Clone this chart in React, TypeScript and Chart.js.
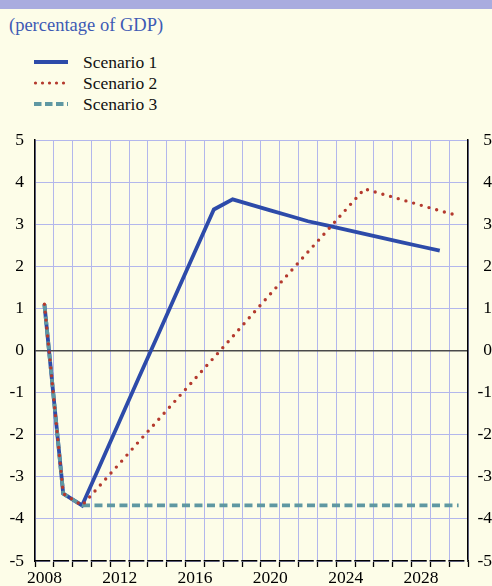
import React, { useEffect, useRef } from "react";
import { Chart, registerables } from "chart.js";

Chart.register(...registerables);

const years: string[] = [
  "2008", "2009", "2010", "2011", "2012", "2013", "2014", "2015", "2016", "2017", "2018", "2019",
  "2020", "2021", "2022", "2023", "2024", "2025", "2026", "2027", "2028", "2029", "2030",
];
const shownYears: string[] = ["2008", "2012", "2016", "2020", "2024", "2028"];

const scenario1: (number | null)[] = [
  1.1, -3.4, -3.68, -2.68, -1.67, -0.66, 0.34, 1.35, 2.35, 3.35, 3.59, 3.46,
  3.33, 3.2, 3.07, 2.97, 2.87, 2.77, 2.67, 2.57, 2.47, 2.37, null,
];
const scenario2: number[] = [
  1.1, -3.4, -3.68, -3.18, -2.68, -2.17, -1.67, -1.17, -0.67, -0.17, 0.33, 0.84,
  1.34, 1.84, 2.34, 2.84, 3.34, 3.84, 3.71, 3.58, 3.45, 3.32, 3.2,
];
const scenario3: number[] = [
  1.1, -3.4, -3.68, -3.68, -3.68, -3.68, -3.68, -3.68, -3.68, -3.68, -3.68, -3.68,
  -3.68, -3.68, -3.68, -3.68, -3.68, -3.68, -3.68, -3.68, -3.68, -3.68, -3.68,
];
const seriesNames: string[] = ["Scenario 1", "Scenario 2", "Scenario 3"];

const BG = "#fdfde8";
const GRID = "#b3b7ec";
const BLUE = "#2d4ba9";
const RED = "#b43a2e";
const TEAL = "#5f98a2";
const FONT = "'Liberation Serif', 'Times New Roman', serif";

const axisGapPlugin = {
  id: "axisGaps",
  afterDraw(chart: any) {
    const xs = chart.scales.x;
    const { left, right, bottom } = chart.chartArea;
    const n = years.length;
    const ctx = chart.ctx;
    ctx.save();
    ctx.fillStyle = BG;
    for (let i = 1; i <= n; i++) {
      const bx = left + (i * (right - left)) / n;
      ctx.fillRect(bx - 3.6, bottom - 1.3, 2.8, 2.6);
    }
    ctx.restore();
    void xs;
  },
};

export default function App() {
  const canvasRef = useRef<HTMLCanvasElement | null>(null);

  useEffect(() => {
    if (!canvasRef.current) return;
    const chart = new Chart(canvasRef.current, {
      type: "line",
      data: {
        labels: years,
        datasets: [
          {
            label: seriesNames[0],
            data: scenario1,
            borderColor: BLUE,
            borderWidth: 3.8,
            pointRadius: 0,
            order: 3,
            spanGaps: false,
          },
          {
            label: seriesNames[1],
            data: scenario2,
            borderColor: RED,
            borderWidth: 3.4,
            borderDash: [0, 8],
            borderCapStyle: "round",
            pointRadius: 0,
            order: 1,
          },
          {
            label: seriesNames[2],
            data: scenario3,
            borderColor: TEAL,
            borderWidth: 3.8,
            borderDash: [8, 4.5],
            pointRadius: 0,
            order: 2,
          },
        ],
      },
      options: {
        animation: false,
        responsive: false,
        maintainAspectRatio: false,
        devicePixelRatio: 1,
        layout: { padding: { top: 140, left: 0, right: 0, bottom: 0 } },
        plugins: {
          legend: { display: false },
          title: { display: false },
          tooltip: { enabled: false },
        },
        scales: {
          x: {
            type: "category",
            offset: true,
            afterFit: (s: any) => {
              s.height = 25;
            },
            grid: {
              offset: true,
              color: GRID,
              lineWidth: 1,
              tickColor: "#000",
              tickLength: 6,
              tickWidth: 1.3,
            },
            border: { display: true, color: "#000", width: 1.5 },
            ticks: {
              autoSkip: false,
              maxRotation: 0,
              padding: 1,
              color: "#000",
              font: { family: FONT, size: 17.5 },
              callback: function (this: any, _v: any, i: number) {
                const l = years[i];
                return shownYears.includes(l) ? l : "";
              },
            },
          },
          y: {
            position: "left",
            min: -5,
            max: 5,
            afterFit: (s: any) => {
              s.width = 35;
            },
            grid: {
              drawTicks: false,
              color: (ctx: any) => (ctx.tick && ctx.tick.value === 0 ? "#4a4a4a" : GRID),
              lineWidth: (ctx: any) => (ctx.tick && ctx.tick.value === 0 ? 1.6 : 1),
            },
            border: { display: true, color: "#000", width: 1.5 },
            ticks: {
              stepSize: 1,
              padding: 11,
              color: "#000",
              font: { family: FONT, size: 17.5 },
            },
          },
          y2: {
            position: "right",
            min: -5,
            max: 5,
            afterFit: (s: any) => {
              s.width = 24;
            },
            grid: { drawTicks: false, drawOnChartArea: false },
            border: { display: true, color: "#000", width: 1.5 },
            ticks: {
              stepSize: 1,
              crossAlign: "far",
              color: "#000",
              font: { family: FONT, size: 17.5 },
            },
          },
        },
      },
      plugins: [axisGapPlugin],
    });
    return () => chart.destroy();
  }, []);

  const legendRows = [
    { name: seriesNames[0], color: BLUE, dash: "", cap: "butt" as const, w: 3.8, cy: 61.5 },
    { name: seriesNames[1], color: RED, dash: "0 7", cap: "round" as const, w: 3.2, cy: 82.5 },
    { name: seriesNames[2], color: TEAL, dash: "7.5 3.5", cap: "butt" as const, w: 3.8, cy: 103.5 },
  ];

  return (
    <div
      style={{
        position: "absolute",
        left: 0,
        top: 0,
        width: 492,
        height: 586,
        background: BG,
        overflow: "hidden",
        fontFamily: FONT,
      }}
    >
      <div style={{ position: "absolute", left: 0, top: 0, width: 492, height: 9, background: "#a9acdf" }} />
      <div
        style={{
          position: "absolute",
          left: 9,
          top: 13,
          fontSize: 18.5,
          lineHeight: "24px",
          color: "#3d5ab4",
          whiteSpace: "nowrap",
        }}
      >
        (percentage of GDP)
      </div>
      {legendRows.map((r) => (
        <div key={r.name}>
          <svg
            width={40}
            height={10}
            style={{ position: "absolute", left: 32, top: r.cy - 5 }}
          >
            <line
              x1={r.cap === "round" ? 3.5 : 2}
              y1={5}
              x2={36}
              y2={5}
              stroke={r.color}
              strokeWidth={r.w}
              strokeDasharray={r.dash || undefined}
              strokeLinecap={r.cap}
            />
          </svg>
          <div
            style={{
              position: "absolute",
              left: 83,
              top: r.cy - 12,
              fontSize: 17.5,
              lineHeight: "24px",
              color: "#111",
              whiteSpace: "nowrap",
            }}
          >
            {r.name}
          </div>
        </div>
      ))}
      <canvas
        ref={canvasRef}
        width={492}
        height={586}
        style={{ position: "absolute", left: 0, top: 0, width: 492, height: 586 }}
      />
    </div>
  );
}
